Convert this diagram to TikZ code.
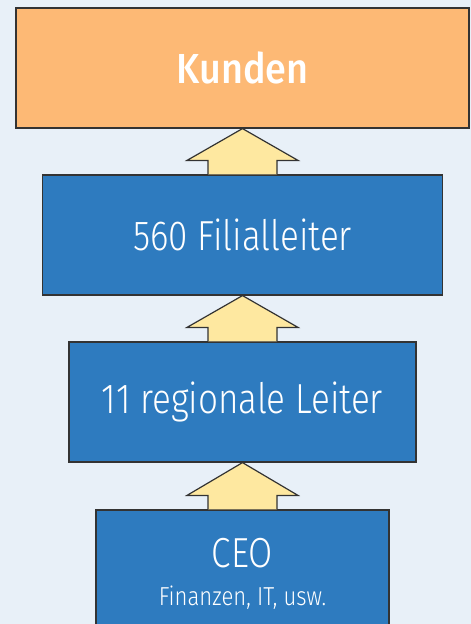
\documentclass[tikz,border=0pt]{standalone}
\usepackage{fontspec}
\setmainfont{Fira Sans Light}[FakeStretch=0.835]
\newfontfamily\kundenfnt{Fira Sans Medium}[FakeStretch=0.9]
\newfontfamily\smallfnt{Fira Sans Light}[FakeStretch=0.85]
\usetikzlibrary{calc}
\definecolor{bgcol}{HTML}{E8F0F8}
\definecolor{orangecol}{HTML}{FDB975}
\definecolor{bluecol}{HTML}{2E7BBF}
\definecolor{arrcol}{HTML}{FEE8A0}
\definecolor{edgecol}{HTML}{333333}
\tikzset{
  boxbase/.style={draw=edgecol, line width=1.2pt, inner sep=0pt, text=white, minimum height=120pt},
  topbox/.style={boxbase, fill=orangecol, font=\fontsize{42}{48}\kundenfnt},
  levelbox/.style={boxbase, fill=bluecol, font=\fontsize{42}{48}\selectfont},
  arr/.style={draw=edgecol, fill=arrcol, line width=1.2pt, line join=miter},
  txt/.style={text=white, inner sep=0pt, anchor=base}
}
\newcommand{\hierarrow}[2]{%
  \path[arr] let \p1=(#2.north), \p2=(#1.south) in
    (\x1-34.5pt,\y1) -- (\x1-34.5pt,\y1+14pt) -- (\x1-55.5pt,\y1+14pt) -- (\x1,\y2)
       -- (\x1+55.5pt,\y1+14pt) -- (\x1+34.5pt,\y1+14pt) -- (\x1+34.5pt,\y1);
}
\begin{document}
\begin{tikzpicture}[x=1pt,y=-1pt]
\useasboundingbox (0,0) rectangle (471,624);
\clip (0,0) rectangle (471,624);
\fill[bgcol] (0,0) rectangle (471,624);
\node[topbox, minimum width=453pt] (kunden) at (242.5,68) {Kunden};
\node[levelbox, minimum width=400pt] (filial) at (242.5,235) {560 Filialleiter};
\node[levelbox, minimum width=347pt] (regional) at (242.5,402) {11 regionale Leiter};
\node[levelbox, minimum width=293pt, minimum height=160pt] (ceo) at (242.5,590) {};
\node[txt, font=\fontsize{42}{48}\selectfont] (ceotxt) at (242.5,567) {CEO};
\node[txt, font=\fontsize{26}{30}\smallfnt] (ceosub) at (242.5,605) {Finanzen, IT, usw.};
\hierarrow{kunden}{filial}
\hierarrow{filial}{regional}
\hierarrow{regional}{ceo}
\end{tikzpicture}
\end{document}
